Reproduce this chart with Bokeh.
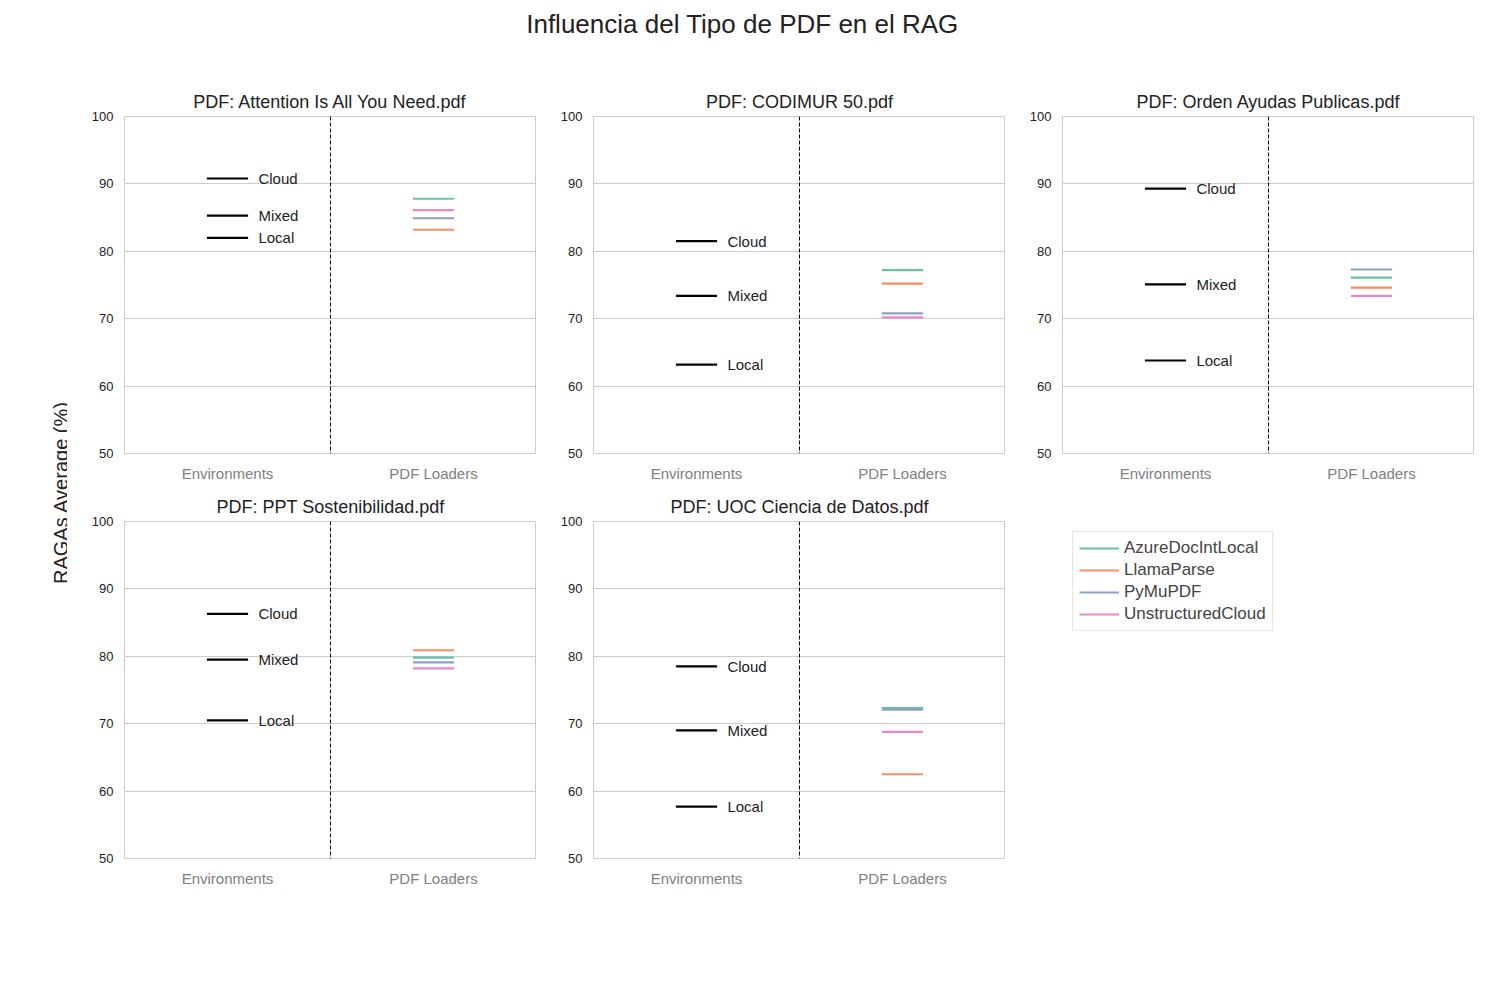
import math
from bokeh.plotting import figure
from bokeh.layouts import gridplot, row, column
from bokeh.models import Label, Span, Legend, LegendItem, FixedTicker
from bokeh.embed import file_html
from bokeh.resources import INLINE

FONT = "Liberation Sans"
pdfs = ["Attention Is All You Need.pdf", "CODIMUR 50.pdf", "Orden Ayudas Publicas.pdf",
        "PPT Sostenibilidad.pdf", "UOC Ciencia de Datos.pdf"]
envs = ["Cloud", "Mixed", "Local"]
env_scores = [
    [90.8, 85.3, 82.0],
    [81.5, 73.4, 63.2],
    [89.3, 75.1, 63.8],
    [86.3, 79.5, 70.5],
    [78.5, 69.0, 57.7],
]
loaders = ["AzureDocIntLocal", "LlamaParse", "PyMuPDF", "UnstructuredCloud"]
loader_colors = ["#66c2a5", "#fc8d62", "#8da0cb", "#e78ac3"]
loader_scores = [
    [87.8, 83.2, 84.9, 86.1],
    [77.2, 75.2, 70.8, 70.2],
    [76.1, 74.6, 77.3, 73.4],
    [79.8, 80.9, 79.1, 78.2],
    [72.3, 62.5, 72.1, 68.8],
]
x_ticks = ["Environments", "PDF Loaders"]


def panel(i):
    p = figure(frame_width=412, frame_height=337, x_range=(0, 2), y_range=(50, 100),
               output_backend="svg", toolbar_location=None, title="PDF: " + pdfs[i],
               min_border_left=57, min_border_right=0, min_border_top=37, min_border_bottom=25)
    p.title.align = "center"
    p.title.text_font = FONT
    p.title.text_font_size = "18px"
    p.title.text_font_style = "normal"
    p.title.text_color = "#222222"
    p.outline_line_color = "#cccccc"
    p.xgrid.visible = False
    p.ygrid.grid_line_color = "#cccccc"
    p.yaxis.ticker = FixedTicker(ticks=[50, 60, 70, 80, 90, 100])
    p.xaxis.ticker = FixedTicker(ticks=[0.5, 1.5])
    p.xaxis.major_label_overrides = {0.5: x_ticks[0], 1.5: x_ticks[1]}
    for ax in (p.xaxis, p.yaxis):
        ax.axis_line_color = None
        ax.major_tick_line_color = None
        ax.minor_tick_line_color = None
        ax.major_label_text_font = FONT
    p.yaxis.major_label_text_font_size = "13px"
    p.yaxis.major_label_text_color = "#222222"
    p.xaxis.major_label_text_font_size = "15px"
    p.xaxis.major_label_text_color = "#808080"
    p.add_layout(Span(location=1, dimension="height", line_color="black",
                      line_dash="4 2", line_width=1))
    for name, v in zip(envs, env_scores[i]):
        p.segment(x0=0.40, x1=0.60, y0=v, y1=v, line_color="black", line_width=2.2)
        p.add_layout(Label(x=0.65, y=v, text=name, text_font=FONT, text_font_size="15px",
                           text_baseline="middle", text_color="#222222"))
    for c, v in zip(loader_colors, loader_scores[i]):
        p.segment(x0=1.40, x1=1.60, y0=v, y1=v, line_color=c, line_width=2.2)
    return p


figs = [panel(i) for i in range(5)]

lg = figure(frame_width=412, frame_height=337, x_range=(0, 1), y_range=(0, 1),
            output_backend="svg", toolbar_location=None,
            min_border_left=57, min_border_right=0, min_border_top=37, min_border_bottom=25)
lg.axis.visible = False
lg.grid.visible = False
lg.outline_line_color = None
items = []
for name, c in zip(loaders, loader_colors):
    r = lg.line([float("nan")], [float("nan")], line_color=c, line_width=2.2)
    items.append(LegendItem(label=name, renderers=[r]))
leg = Legend(items=items, location="top_left", margin=10, label_text_font=FONT,
             label_text_font_size="17px", border_line_color="#cccccc", glyph_width=40,
             padding=6, spacing=2)
lg.add_layout(leg)

grid = gridplot([figs[:3], figs[3:] + [lg]], toolbar_location=None)

yl = figure(width=67, height=798, x_range=(0, 1), y_range=(0, 1), output_backend="svg",
            toolbar_location=None, min_border=0)
yl.axis.visible = False
yl.grid.visible = False
yl.outline_line_color = None
yl.add_layout(Label(x=60, x_units="screen", y=385, y_units="screen",
                    text="RAGAs Average (%)", angle=math.pi / 2, text_align="center",
                    text_baseline="middle", text_font=FONT, text_font_size="20px",
                    text_color="#222222"))

tt = figure(width=1474, height=79, x_range=(0, 1), y_range=(0, 1), output_backend="svg",
            toolbar_location=None, min_border=0)
tt.axis.visible = False
tt.grid.visible = False
tt.outline_line_color = None
tt.add_layout(Label(x=742, y=56, x_units="screen", y_units="screen",
                    text="Influencia del Tipo de PDF en el RAG", text_align="center",
                    text_baseline="middle", text_font=FONT, text_font_size="26px",
                    text_color="#222222"))

p = column(tt, row(yl, grid))
open("out.html", "w").write(file_html(p, INLINE))
